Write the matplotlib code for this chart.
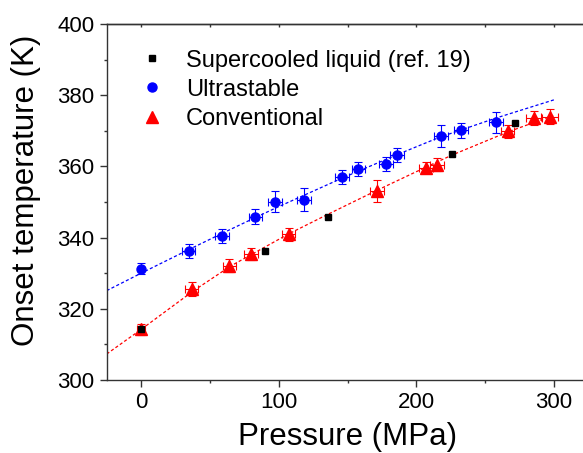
import matplotlib
matplotlib.use("Agg")
import matplotlib.pyplot as plt
from matplotlib.ticker import MultipleLocator

plt.rcParams["font.family"] = ["Liberation Sans", "DejaVu Sans"]

# supercooled liquid, ref. 19
liq_p = [0, 89.9, 135.7, 225.6, 272.0]
liq_t = [314.2, 336.3, 345.9, 363.4, 372.2]

# ultrastable glass
us_p = [0, 34.5, 58.6, 83.1, 97.1, 118.2, 146.0, 157.9, 178.1, 185.9, 218.0, 232.3, 257.7]
us_t = [331.3, 336.3, 340.5, 345.9, 350.1, 350.7, 357.0, 359.3, 360.7, 363.1, 368.5, 370.1, 372.4]
us_terr = [1.5, 2.0, 1.9, 2.0, 3.0, 3.1, 2.0, 2.0, 2.0, 2.0, 3.0, 2.0, 3.0]
us_perr = [0, 5, 5, 5, 5, 5, 5, 5, 5, 5, 5, 5, 5]

# conventional glass
cv_p = [0, 36.7, 64.2, 80.1, 107.1, 171.6, 207.2, 215.1, 266.3, 285.5, 296.8]
cv_t = [314.2, 325.5, 332.1, 335.4, 340.9, 353.0, 359.6, 360.5, 369.9, 373.6, 374.0]
cv_terr = [1.5, 1.9, 1.8, 1.8, 1.8, 3.1, 1.5, 1.8, 1.8, 2.0, 2.0]
cv_perr = [3, 5, 5, 5, 5, 5, 5, 5, 5, 6, 6]

# dashed guide curves
us_fit_p = [-25, 0, 35, 60, 85, 100, 146, 186, 217, 258, 300]
us_fit_t = [325.1, 330.0, 336.7, 341.4, 346.0, 348.7, 356.7, 363.3, 368.2, 373.6, 378.7]
cv_fit_p = [-25, 0, 37.5, 65, 107, 136, 172, 207, 226, 266, 300]
cv_fit_t = [307.3, 314.2, 324.9, 332.0, 341.0, 346.6, 353.4, 359.8, 363.2, 369.6, 374.4]

BLUE = "#0000FF"
RED = "#FF0000"
AXIS = "#333333"

fig = plt.figure(figsize=(5.83, 4.53), dpi=100)
ax = fig.add_axes([106.7 / 583, 73 / 453, 481.7 / 583, 356 / 453])

ax.plot(us_fit_p, us_fit_t, color=BLUE, lw=0.9, dashes=(2.5, 1.8), zorder=1)
ax.plot(cv_fit_p, cv_fit_t, color=RED, lw=0.9, dashes=(2.5, 1.8), zorder=1)

ax.errorbar(us_p, us_t, yerr=us_terr, xerr=us_perr, fmt="none", ecolor=BLUE,
            elinewidth=0.8, capsize=3, capthick=0.8, zorder=2)
ax.errorbar(cv_p, cv_t, yerr=cv_terr, xerr=cv_perr, fmt="none", ecolor=RED,
            elinewidth=0.8, capsize=3, capthick=0.8, zorder=2)

ax.plot(us_p, us_t, "o", color=BLUE, ms=6.5, mec=BLUE, label="Ultrastable", zorder=3)
ax.plot(cv_p, cv_t, "^", color=RED, ms=8, mec=RED, label="Conventional", zorder=3)
ax.plot(liq_p, liq_t, "s", color="black", ms=4.5, label="Supercooled liquid (ref. 19)", zorder=4)

ax.set_xlim(-25, 325)
ax.set_ylim(300, 400)
ax.xaxis.set_major_locator(MultipleLocator(100))
ax.xaxis.set_minor_locator(MultipleLocator(50))
ax.yaxis.set_major_locator(MultipleLocator(20))
ax.yaxis.set_minor_locator(MultipleLocator(10))

for side in ["left", "bottom", "top", "right"]:
    ax.spines[side].set_color(AXIS)
    ax.spines[side].set_linewidth(1.0)

ax.tick_params(which="major", direction="out", length=5, width=1, color=AXIS,
               labelsize=16, pad=4)
ax.tick_params(which="minor", direction="out", length=2.5, width=1, color=AXIS)

# small inward ticks along the top edge
top = ax.secondary_xaxis("top")
top.xaxis.set_major_locator(MultipleLocator(100))
top.xaxis.set_minor_locator(MultipleLocator(50))
top.tick_params(which="both", direction="in", length=2, width=1, color=AXIS,
                labeltop=False)
top.spines["top"].set_color(AXIS)
top.spines["top"].set_linewidth(1.0)

ax.set_xlabel("Pressure (MPa)", fontsize=22.5)
ax.set_ylabel("Onset temperature (K)", fontsize=22.5)
ax.xaxis.set_label_coords(0.5, -0.118)
ax.yaxis.set_label_coords(-0.136, 0.534)

handles, labels = ax.get_legend_handles_labels()
order = [2, 0, 1]
ax.legend([handles[i] for i in order], [labels[i] for i in order],
          loc="upper left", bbox_to_anchor=(0.069, 0.928), frameon=False,
          fontsize=17, numpoints=1, handlelength=1.0, handletextpad=0.95,
          labelspacing=0.3, borderpad=0, borderaxespad=0)

fig.savefig("out.png", dpi=100)
